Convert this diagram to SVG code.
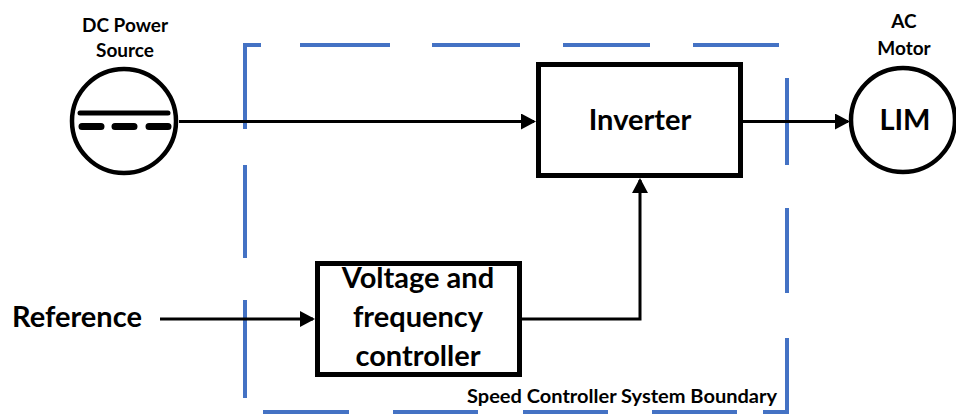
<svg xmlns="http://www.w3.org/2000/svg" width="956" height="415" viewBox="0 0 956 415">
<style>
.bnd{fill:none;stroke:#4472C4;stroke-width:4}
.box{fill:#fff;stroke:#000;stroke-width:5}
.circ{fill:#fff;stroke:#000;stroke-width:4.5}
.wire{fill:none;stroke:#000;stroke-width:3}
text{font-family:Lato,"Liberation Sans",sans-serif;font-weight:bold;fill:#000}
.big{font-size:29px;text-anchor:middle}
.sm{font-size:19px;text-anchor:middle}
</style>
<defs>
<marker id="ah" markerUnits="userSpaceOnUse" markerWidth="16" markerHeight="16" refX="13" refY="8" orient="auto">
<path d="M0,0 L15,8 L0,16 Z" fill="#000"/>
</marker>
</defs>
<g id="boundary">
<path class="bnd" d="M245,129 V45 H261 M300,45 H390 M432,45 H520 M563,45 H650 M693,45 H779 M787,78 V165 M787,208 V293 M787,338 V412 H763 M737,412 H652 M608,412 H523 M478,412 H393 M349,412 H263 M245,165 V258 M245,300 V398"/>
<text x="467" y="403" style="font-size:19px" textLength="310" lengthAdjust="spacingAndGlyphs">Speed Controller System Boundary</text>
</g>
<g id="connectors">
<path class="wire" d="M179,121.5 H534" marker-end="url(#ah)"/>
<path class="wire" d="M743,121.5 H848" marker-end="url(#ah)"/>
<path class="wire" d="M160,319 H313" marker-end="url(#ah)"/>
<path class="wire" d="M522,319 H640 V180" marker-end="url(#ah)"/>
</g>
<g id="dc-source">
<circle class="circ" cx="124" cy="121" r="52"/>
<line x1="80" y1="113" x2="168" y2="113" stroke="#000" stroke-width="5" stroke-linecap="round"/>
<path d="M82,126.5 H101 M115,126.5 H134 M149,126.5 H168" stroke="#000" stroke-width="7" stroke-linecap="round"/>
<text class="sm" x="125" y="32">DC Power</text>
<text class="sm" x="125" y="57">Source</text>
</g>
<g id="inverter">
<rect class="box" x="538.5" y="64.5" width="202" height="111"/>
<text class="big" x="640" y="130">Inverter</text>
</g>
<g id="motor">
<circle class="circ" cx="903" cy="120" r="52"/>
<text class="big" x="905" y="130">LIM</text>
<text class="sm" x="904" y="28">AC</text>
<text class="sm" x="904" y="55">Motor</text>
</g>
<g id="controller">
<rect class="box" x="317.5" y="263.5" width="202" height="111"/>
<text class="big" x="418" y="288">Voltage and</text>
<text class="big" x="418" y="327">frequency</text>
<text class="big" x="418" y="366">controller</text>
</g>
<g id="reference">
<text x="12" y="327" style="font-size:29px">Reference</text>
</g>
</svg>
